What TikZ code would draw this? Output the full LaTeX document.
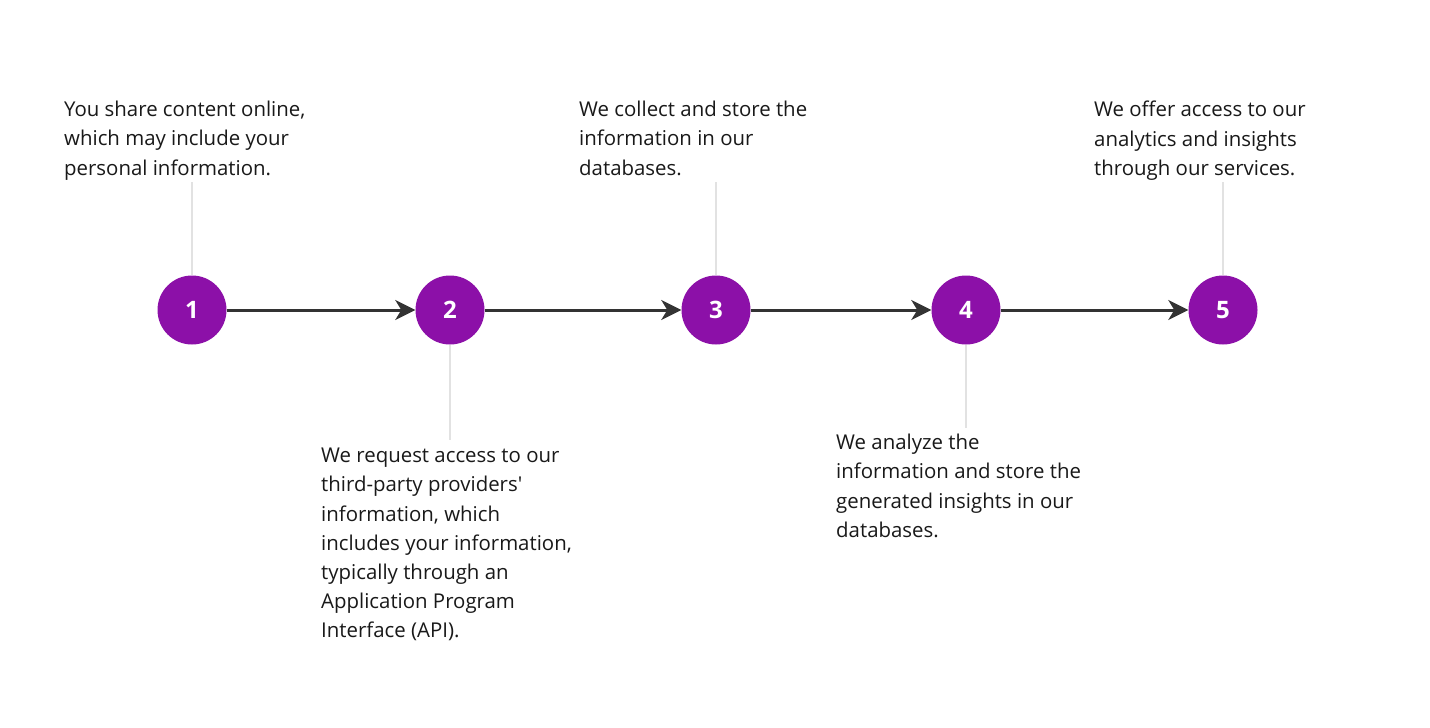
\documentclass[tikz,border=0pt]{standalone}
\usepackage{fontspec}
\setmainfont{Open Sans}
\usetikzlibrary{arrows.meta}
\definecolor{stepPurple}{HTML}{8C10A8}
\definecolor{arrowGray}{HTML}{333333}
\definecolor{stemGray}{HTML}{E2E2E2}
\tikzset{
  stepcircle/.style={circle, fill=stepPurple, minimum size=69pt, inner sep=0pt,
    text=white, font=\fontsize{24}{28}\selectfont\bfseries},
  flowarrow/.style={draw=arrowGray, line width=3pt,
    -{Stealth[length=20pt,width=20pt,inset=6pt]}},
  stem/.style={draw=stemGray, line width=2.5pt},
  desc/.style={anchor=north west, align=left, inner sep=0pt,
    font=\fontsize{20.4}{29.2}\selectfont, text=black!90}
}
\begin{document}
\begin{tikzpicture}[x=1pt,y=-1pt]
\useasboundingbox (0,0) rectangle (1430,728);
\fill[white] (0,0) rectangle (1430,728);
% steps
\node[stepcircle] (s1) at (192,310) {1};
\node[stepcircle] (s2) at (450,310) {2};
\node[stepcircle] (s3) at (716,310) {3};
\node[stepcircle] (s4) at (966,310) {4};
\node[stepcircle] (s5) at (1223,310) {5};
% descriptions
\node[desc] (t1) at (64,101) {You share content online,\\which may include your\\personal information.};
\node[desc] (t3) at (579,101) {We collect and store the\\information in our\\databases.};
\node[desc] (t5) at (1094,101) {We offer access to our\\analytics and insights\\through our services.};
\node[desc] (t2) at (321,448) {We request access to our\\third-party providers\textquotesingle\\information, which\\includes your information,\\typically through an\\Application Program\\Interface (API).};
\node[desc] (t4) at (836,434) {We analyze the\\information and store the\\generated insights in our\\databases.};
% stem end points
\coordinate (e1) at (192,182);
\coordinate (e2) at (450,440);
\coordinate (e3) at (716,182);
\coordinate (e4) at (966,428);
\coordinate (e5) at (1223,182);
\draw[stem] (s1.north) -- (e1);
\draw[stem] (s2.south) -- (e2);
\draw[stem] (s3.north) -- (e3);
\draw[stem] (s4.south) -- (e4);
\draw[stem] (s5.north) -- (e5);
% arrows
\draw[flowarrow] (s1) -- (s2);
\draw[flowarrow] (s2) -- (s3);
\draw[flowarrow] (s3) -- (s4);
\draw[flowarrow] (s4) -- (s5);
\end{tikzpicture}
\end{document}
